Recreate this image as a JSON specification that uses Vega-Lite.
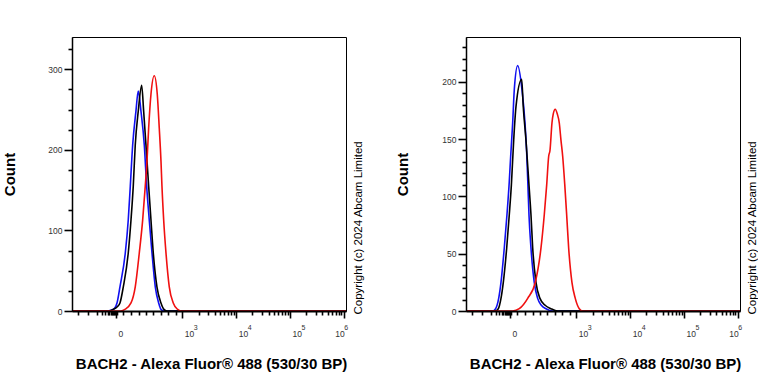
{
  "$schema": "https://vega.github.io/schema/vega-lite/v6.json",
  "padding": {"left": 1, "top": 36, "right": 0, "bottom": 0},
  "config": {
    "font": "Liberation Sans",
    "view": {"stroke": "black", "strokeWidth": 1},
    "axis": {"grid": false, "domainColor": "black", "tickColor": "black", "labelColor": "#333333", "titleColor": "black", "labelFont": "Liberation Sans", "titleFont": "Liberation Sans"}
  },
  "data": {"values": [
    {"panel":"A","sample":"Unlabelled","fl":0.95,"count":0},{"panel":"A","sample":"Unlabelled","fl":1.6,"count":0},{"panel":"A","sample":"Unlabelled","fl":1.674,"count":1},{"panel":"A","sample":"Unlabelled","fl":1.736,"count":3},{"panel":"A","sample":"Unlabelled","fl":1.786,"count":10},{"panel":"A","sample":"Unlabelled","fl":1.841,"count":30},{"panel":"A","sample":"Unlabelled","fl":1.94,"count":72},{"panel":"A","sample":"Unlabelled","fl":1.995,"count":113},{"panel":"A","sample":"Unlabelled","fl":2.033,"count":155},{"panel":"A","sample":"Unlabelled","fl":2.077,"count":206},{"panel":"A","sample":"Unlabelled","fl":2.138,"count":248},{"panel":"A","sample":"Unlabelled","fl":2.181,"count":273},{"panel":"A","sample":"Unlabelled","fl":2.231,"count":248},{"panel":"A","sample":"Unlabelled","fl":2.293,"count":206},{"panel":"A","sample":"Unlabelled","fl":2.337,"count":155},{"panel":"A","sample":"Unlabelled","fl":2.385,"count":113},{"panel":"A","sample":"Unlabelled","fl":2.436,"count":72},{"panel":"A","sample":"Unlabelled","fl":2.497,"count":30},{"panel":"A","sample":"Unlabelled","fl":2.56,"count":10},{"panel":"A","sample":"Unlabelled","fl":2.603,"count":2},{"panel":"A","sample":"Unlabelled","fl":2.658,"count":0},{"panel":"A","sample":"Unlabelled","fl":6.04,"count":0},
    {"panel":"A","sample":"Isotype control","fl":0.95,"count":0},{"panel":"A","sample":"Isotype control","fl":1.637,"count":0},{"panel":"A","sample":"Isotype control","fl":1.711,"count":2},{"panel":"A","sample":"Isotype control","fl":1.786,"count":5},{"panel":"A","sample":"Isotype control","fl":1.841,"count":10},{"panel":"A","sample":"Isotype control","fl":1.903,"count":30},{"panel":"A","sample":"Isotype control","fl":1.995,"count":72},{"panel":"A","sample":"Isotype control","fl":2.046,"count":113},{"panel":"A","sample":"Isotype control","fl":2.088,"count":155},{"panel":"A","sample":"Isotype control","fl":2.125,"count":206},{"panel":"A","sample":"Isotype control","fl":2.181,"count":248},{"panel":"A","sample":"Isotype control","fl":2.244,"count":280},{"panel":"A","sample":"Isotype control","fl":2.281,"count":248},{"panel":"A","sample":"Isotype control","fl":2.324,"count":206},{"panel":"A","sample":"Isotype control","fl":2.374,"count":155},{"panel":"A","sample":"Isotype control","fl":2.417,"count":113},{"panel":"A","sample":"Isotype control","fl":2.46,"count":72},{"panel":"A","sample":"Isotype control","fl":2.528,"count":30},{"panel":"A","sample":"Isotype control","fl":2.603,"count":10},{"panel":"A","sample":"Isotype control","fl":2.658,"count":2},{"panel":"A","sample":"Isotype control","fl":2.714,"count":0},{"panel":"A","sample":"Isotype control","fl":6.04,"count":0},
    {"panel":"A","sample":"BACH2","fl":0.95,"count":0},{"panel":"A","sample":"BACH2","fl":1.86,"count":0},{"panel":"A","sample":"BACH2","fl":1.934,"count":2},{"panel":"A","sample":"BACH2","fl":2.046,"count":10},{"panel":"A","sample":"BACH2","fl":2.125,"count":30},{"panel":"A","sample":"BACH2","fl":2.2,"count":72},{"panel":"A","sample":"BACH2","fl":2.263,"count":113},{"panel":"A","sample":"BACH2","fl":2.311,"count":155},{"panel":"A","sample":"BACH2","fl":2.343,"count":186},{"panel":"A","sample":"BACH2","fl":2.374,"count":227},{"panel":"A","sample":"BACH2","fl":2.417,"count":269},{"panel":"A","sample":"BACH2","fl":2.478,"count":292},{"panel":"A","sample":"BACH2","fl":2.534,"count":269},{"panel":"A","sample":"BACH2","fl":2.571,"count":227},{"panel":"A","sample":"BACH2","fl":2.603,"count":186},{"panel":"A","sample":"BACH2","fl":2.621,"count":155},{"panel":"A","sample":"BACH2","fl":2.653,"count":113},{"panel":"A","sample":"BACH2","fl":2.696,"count":72},{"panel":"A","sample":"BACH2","fl":2.757,"count":30},{"panel":"A","sample":"BACH2","fl":2.831,"count":10},{"panel":"A","sample":"BACH2","fl":2.913,"count":2},{"panel":"A","sample":"BACH2","fl":2.974,"count":0},{"panel":"A","sample":"BACH2","fl":6.04,"count":0},
    {"panel":"B","sample":"Unlabelled","fl":0.95,"count":0},{"panel":"B","sample":"Unlabelled","fl":1.446,"count":0},{"panel":"B","sample":"Unlabelled","fl":1.5,"count":2},{"panel":"B","sample":"Unlabelled","fl":1.557,"count":11},{"panel":"B","sample":"Unlabelled","fl":1.6,"count":25},{"panel":"B","sample":"Unlabelled","fl":1.661,"count":55},{"panel":"B","sample":"Unlabelled","fl":1.711,"count":84},{"panel":"B","sample":"Unlabelled","fl":1.754,"count":113},{"panel":"B","sample":"Unlabelled","fl":1.78,"count":135},{"panel":"B","sample":"Unlabelled","fl":1.817,"count":164},{"panel":"B","sample":"Unlabelled","fl":1.847,"count":193},{"panel":"B","sample":"Unlabelled","fl":1.91,"count":214},{"panel":"B","sample":"Unlabelled","fl":1.99,"count":193},{"panel":"B","sample":"Unlabelled","fl":2.046,"count":164},{"panel":"B","sample":"Unlabelled","fl":2.08,"count":135},{"panel":"B","sample":"Unlabelled","fl":2.1,"count":110},{"panel":"B","sample":"Unlabelled","fl":2.12,"count":84},{"panel":"B","sample":"Unlabelled","fl":2.157,"count":55},{"panel":"B","sample":"Unlabelled","fl":2.218,"count":25},{"panel":"B","sample":"Unlabelled","fl":2.281,"count":11},{"panel":"B","sample":"Unlabelled","fl":2.35,"count":5},{"panel":"B","sample":"Unlabelled","fl":2.436,"count":2},{"panel":"B","sample":"Unlabelled","fl":2.56,"count":0},{"panel":"B","sample":"Unlabelled","fl":6.04,"count":0},
    {"panel":"B","sample":"Isotype control","fl":0.95,"count":0},{"panel":"B","sample":"Isotype control","fl":1.494,"count":0},{"panel":"B","sample":"Isotype control","fl":1.55,"count":2},{"panel":"B","sample":"Isotype control","fl":1.6,"count":11},{"panel":"B","sample":"Isotype control","fl":1.643,"count":25},{"panel":"B","sample":"Isotype control","fl":1.706,"count":55},{"panel":"B","sample":"Isotype control","fl":1.754,"count":84},{"panel":"B","sample":"Isotype control","fl":1.793,"count":110},{"panel":"B","sample":"Isotype control","fl":1.836,"count":149},{"panel":"B","sample":"Isotype control","fl":1.878,"count":178},{"panel":"B","sample":"Isotype control","fl":1.984,"count":202},{"panel":"B","sample":"Isotype control","fl":2.014,"count":178},{"panel":"B","sample":"Isotype control","fl":2.064,"count":149},{"panel":"B","sample":"Isotype control","fl":2.12,"count":110},{"panel":"B","sample":"Isotype control","fl":2.157,"count":84},{"panel":"B","sample":"Isotype control","fl":2.189,"count":55},{"panel":"B","sample":"Isotype control","fl":2.25,"count":25},{"panel":"B","sample":"Isotype control","fl":2.324,"count":11},{"panel":"B","sample":"Isotype control","fl":2.42,"count":5},{"panel":"B","sample":"Isotype control","fl":2.528,"count":2},{"panel":"B","sample":"Isotype control","fl":2.653,"count":0},{"panel":"B","sample":"Isotype control","fl":6.04,"count":0},
    {"panel":"B","sample":"BACH2","fl":0.95,"count":0},{"panel":"B","sample":"BACH2","fl":1.817,"count":0},{"panel":"B","sample":"BACH2","fl":1.94,"count":2},{"panel":"B","sample":"BACH2","fl":2.096,"count":11},{"panel":"B","sample":"BACH2","fl":2.237,"count":25},{"panel":"B","sample":"BACH2","fl":2.343,"count":55},{"panel":"B","sample":"BACH2","fl":2.404,"count":84},{"panel":"B","sample":"BACH2","fl":2.449,"count":110},{"panel":"B","sample":"BACH2","fl":2.486,"count":135},{"panel":"B","sample":"BACH2","fl":2.51,"count":140},{"panel":"B","sample":"BACH2","fl":2.547,"count":164},{"panel":"B","sample":"BACH2","fl":2.571,"count":172},{"panel":"B","sample":"BACH2","fl":2.608,"count":176},{"panel":"B","sample":"BACH2","fl":2.645,"count":172},{"panel":"B","sample":"BACH2","fl":2.683,"count":164},{"panel":"B","sample":"BACH2","fl":2.714,"count":149},{"panel":"B","sample":"BACH2","fl":2.746,"count":135},{"panel":"B","sample":"BACH2","fl":2.785,"count":110},{"panel":"B","sample":"BACH2","fl":2.82,"count":84},{"panel":"B","sample":"BACH2","fl":2.857,"count":55},{"panel":"B","sample":"BACH2","fl":2.918,"count":25},{"panel":"B","sample":"BACH2","fl":2.98,"count":11},{"panel":"B","sample":"BACH2","fl":3.054,"count":2},{"panel":"B","sample":"BACH2","fl":3.117,"count":0},{"panel":"B","sample":"BACH2","fl":6.04,"count":0}
  ]},
  "bounds": "flush",
  "spacing": 120,
  "hconcat": [
    {
      "width": 274, "height": 274,
      "layer": [
        {
          "transform": [{"filter": "datum.panel === 'A'"}],
          "mark": {"type": "line", "interpolate": "monotone", "strokeWidth": 1.6},
          "encoding": {
            "x": {"field": "fl", "type": "quantitative", "scale": {"domain": [0.95, 6.04], "nice": false, "zero": false},
              "axis": {"orient": "bottom", "title": "BACH2 - Alexa Fluor® 488 (530/30 BP)", "titleFontSize": 15, "titleFontWeight": "bold", "titleBaseline": "alphabetic", "titleY": 57, "titleX": 139,
                "values": [1.056,1.242,1.414,1.5,1.56,1.61,1.64,1.67,1.69,1.71,1.73,1.745,1.767,1.79,1.891,2.046,2.189,2.324,2.449,2.603,2.727,2.881,3,3.301,3.477,3.602,3.699,3.778,3.845,3.903,3.954,4,4.301,4.477,4.602,4.699,4.778,4.845,4.903,4.954,5,5.301,5.477,5.602,5.699,5.778,5.845,5.903,5.954,6],
                "labelExpr": "datum.value === 1.767 ? '0' : (datum.value === 3 || datum.value === 4 || datum.value === 5 || datum.value === 6) ? '10' : ''",
                "labelFontSize": 8.5, "labelPadding": 11, "labelFlush": false, "labelOverlap": false, "labelBound": false,
                "labelAlign": "left",
                "labelOffset": {"condition": {"test": "datum.value === 6", "value": -9}, "value": 2},
                "tickSize": {"condition": {"test": "datum.value === 1.767 || datum.value === 3 || datum.value === 4 || datum.value === 5 || datum.value === 6", "value": 7}, "value": 4},
                "tickWidth": 1.6, "domainWidth": 2, "zindex": 1}},
            "y": {"field": "count", "type": "quantitative", "scale": {"domain": [0, 340], "nice": false},
              "axis": {"orient": "left", "title": "Count", "titleFontSize": 15, "titleFontWeight": "bold", "titleX": -63, "titleY": 137, "titleBaseline": "middle", "titleAlign": "center", "titleAngle": 270,
                "values": [0,25,50,75,100,125,150,175,200,225,250,275,300,325],
                "labelExpr": "datum.value % 100 === 0 ? datum.label : ''",
                "labelFontSize": 8.5, "labelPadding": 2, "labelOverlap": false, "labelFlush": false,
                "tickSize": {"condition": {"test": "datum.value % 100 === 0", "value": 8}, "value": 4},
                "tickWidth": 1.6, "domainWidth": 1.5, "zindex": 1}},
            "color": {"field": "sample", "type": "nominal", "scale": {"domain": ["Unlabelled", "Isotype control", "BACH2"], "range": ["#1010f0", "#000000", "#f01010"]}, "legend": null}
          }
        },
        {
          "data": {"values": [{"baseline": 0}]},
          "mark": {"type": "rule", "strokeOpacity": 0},
          "encoding": {
            "y": {"field": "baseline", "type": "quantitative",
              "axis": {"orient": "right", "title": "Copyright (c) 2024 Abcam Limited", "titleFontSize": 11.5, "titleFontWeight": "normal", "titleAngle": 270, "titleX": 12, "titleY": 277, "titleAlign": "left", "titleBaseline": "middle", "labels": false, "ticks": false, "domain": false}}
          }
        },
        {
          "data": {"values": [{"decade": 3}]},
          "mark": {"type": "rule", "strokeOpacity": 0},
          "encoding": {
            "x": {"field": "decade", "type": "quantitative",
              "axis": {"orient": "bottom", "title": null, "domain": false, "ticks": true, "tickSize": 0, "tickOpacity": 0, "values": [3, 4, 5, 6],
                "labelExpr": "'' + datum.value", "labelFontSize": 7, "labelPadding": 12, "labelAlign": "left", "labelFlush": false, "labelOverlap": false, "labelBound": false,
                "labelOffset": {"condition": {"test": "datum.value === 6", "value": 0}, "value": 11}}}
          }
        }
      ],
      "resolve": {"axis": {"y": "independent", "x": "independent"}}
    },
    {
      "width": 274, "height": 274,
      "layer": [
        {
          "transform": [{"filter": "datum.panel === 'B'"}],
          "mark": {"type": "line", "interpolate": "monotone", "strokeWidth": 1.6},
          "encoding": {
            "x": {"field": "fl", "type": "quantitative", "scale": {"domain": [0.95, 6.04], "nice": false, "zero": false},
              "axis": {"orient": "bottom", "title": "BACH2 - Alexa Fluor® 488 (530/30 BP)", "titleFontSize": 15, "titleFontWeight": "bold", "titleBaseline": "alphabetic", "titleY": 57, "titleX": 139,
                "values": [1.056,1.242,1.414,1.5,1.56,1.61,1.64,1.67,1.69,1.71,1.73,1.745,1.767,1.79,1.891,2.046,2.189,2.324,2.449,2.603,2.727,2.881,3,3.301,3.477,3.602,3.699,3.778,3.845,3.903,3.954,4,4.301,4.477,4.602,4.699,4.778,4.845,4.903,4.954,5,5.301,5.477,5.602,5.699,5.778,5.845,5.903,5.954,6],
                "labelExpr": "datum.value === 1.767 ? '0' : (datum.value === 3 || datum.value === 4 || datum.value === 5 || datum.value === 6) ? '10' : ''",
                "labelFontSize": 8.5, "labelPadding": 11, "labelFlush": false, "labelOverlap": false, "labelBound": false,
                "labelAlign": "left",
                "labelOffset": {"condition": {"test": "datum.value === 6", "value": -9}, "value": 2},
                "tickSize": {"condition": {"test": "datum.value === 1.767 || datum.value === 3 || datum.value === 4 || datum.value === 5 || datum.value === 6", "value": 7}, "value": 4},
                "tickWidth": 1.6, "domainWidth": 2, "zindex": 1}},
            "y": {"field": "count", "type": "quantitative", "scale": {"domain": [0, 239], "nice": false},
              "axis": {"orient": "left", "title": "Count", "titleFontSize": 15, "titleFontWeight": "bold", "titleX": -64, "titleY": 137, "titleBaseline": "middle", "titleAlign": "center", "titleAngle": 270,
                "values": [0,10,20,30,40,50,60,70,80,90,100,110,120,130,140,150,160,170,180,190,200,210,220,230],
                "labelExpr": "datum.value % 50 === 0 ? datum.label : ''",
                "labelFontSize": 8.5, "labelPadding": 2, "labelOverlap": false, "labelFlush": false,
                "tickSize": {"condition": {"test": "datum.value % 50 === 0", "value": 8}, "value": 4},
                "tickWidth": 1.6, "domainWidth": 1.5, "zindex": 1}},
            "color": {"field": "sample", "type": "nominal", "scale": {"domain": ["Unlabelled", "Isotype control", "BACH2"], "range": ["#1010f0", "#000000", "#f01010"]}, "legend": null}
          }
        },
        {
          "data": {"values": [{"baseline": 0}]},
          "mark": {"type": "rule", "strokeOpacity": 0},
          "encoding": {
            "y": {"field": "baseline", "type": "quantitative",
              "axis": {"orient": "right", "title": "Copyright (c) 2024 Abcam Limited", "titleFontSize": 11.5, "titleFontWeight": "normal", "titleAngle": 270, "titleX": 12, "titleY": 277, "titleAlign": "left", "titleBaseline": "middle", "labels": false, "ticks": false, "domain": false}}
          }
        },
        {
          "data": {"values": [{"decade": 3}]},
          "mark": {"type": "rule", "strokeOpacity": 0},
          "encoding": {
            "x": {"field": "decade", "type": "quantitative",
              "axis": {"orient": "bottom", "title": null, "domain": false, "ticks": true, "tickSize": 0, "tickOpacity": 0, "values": [3, 4, 5, 6],
                "labelExpr": "'' + datum.value", "labelFontSize": 7, "labelPadding": 12, "labelAlign": "left", "labelFlush": false, "labelOverlap": false, "labelBound": false,
                "labelOffset": {"condition": {"test": "datum.value === 6", "value": 0}, "value": 11}}}
          }
        }
      ],
      "resolve": {"axis": {"y": "independent", "x": "independent"}}
    }
  ]
}
